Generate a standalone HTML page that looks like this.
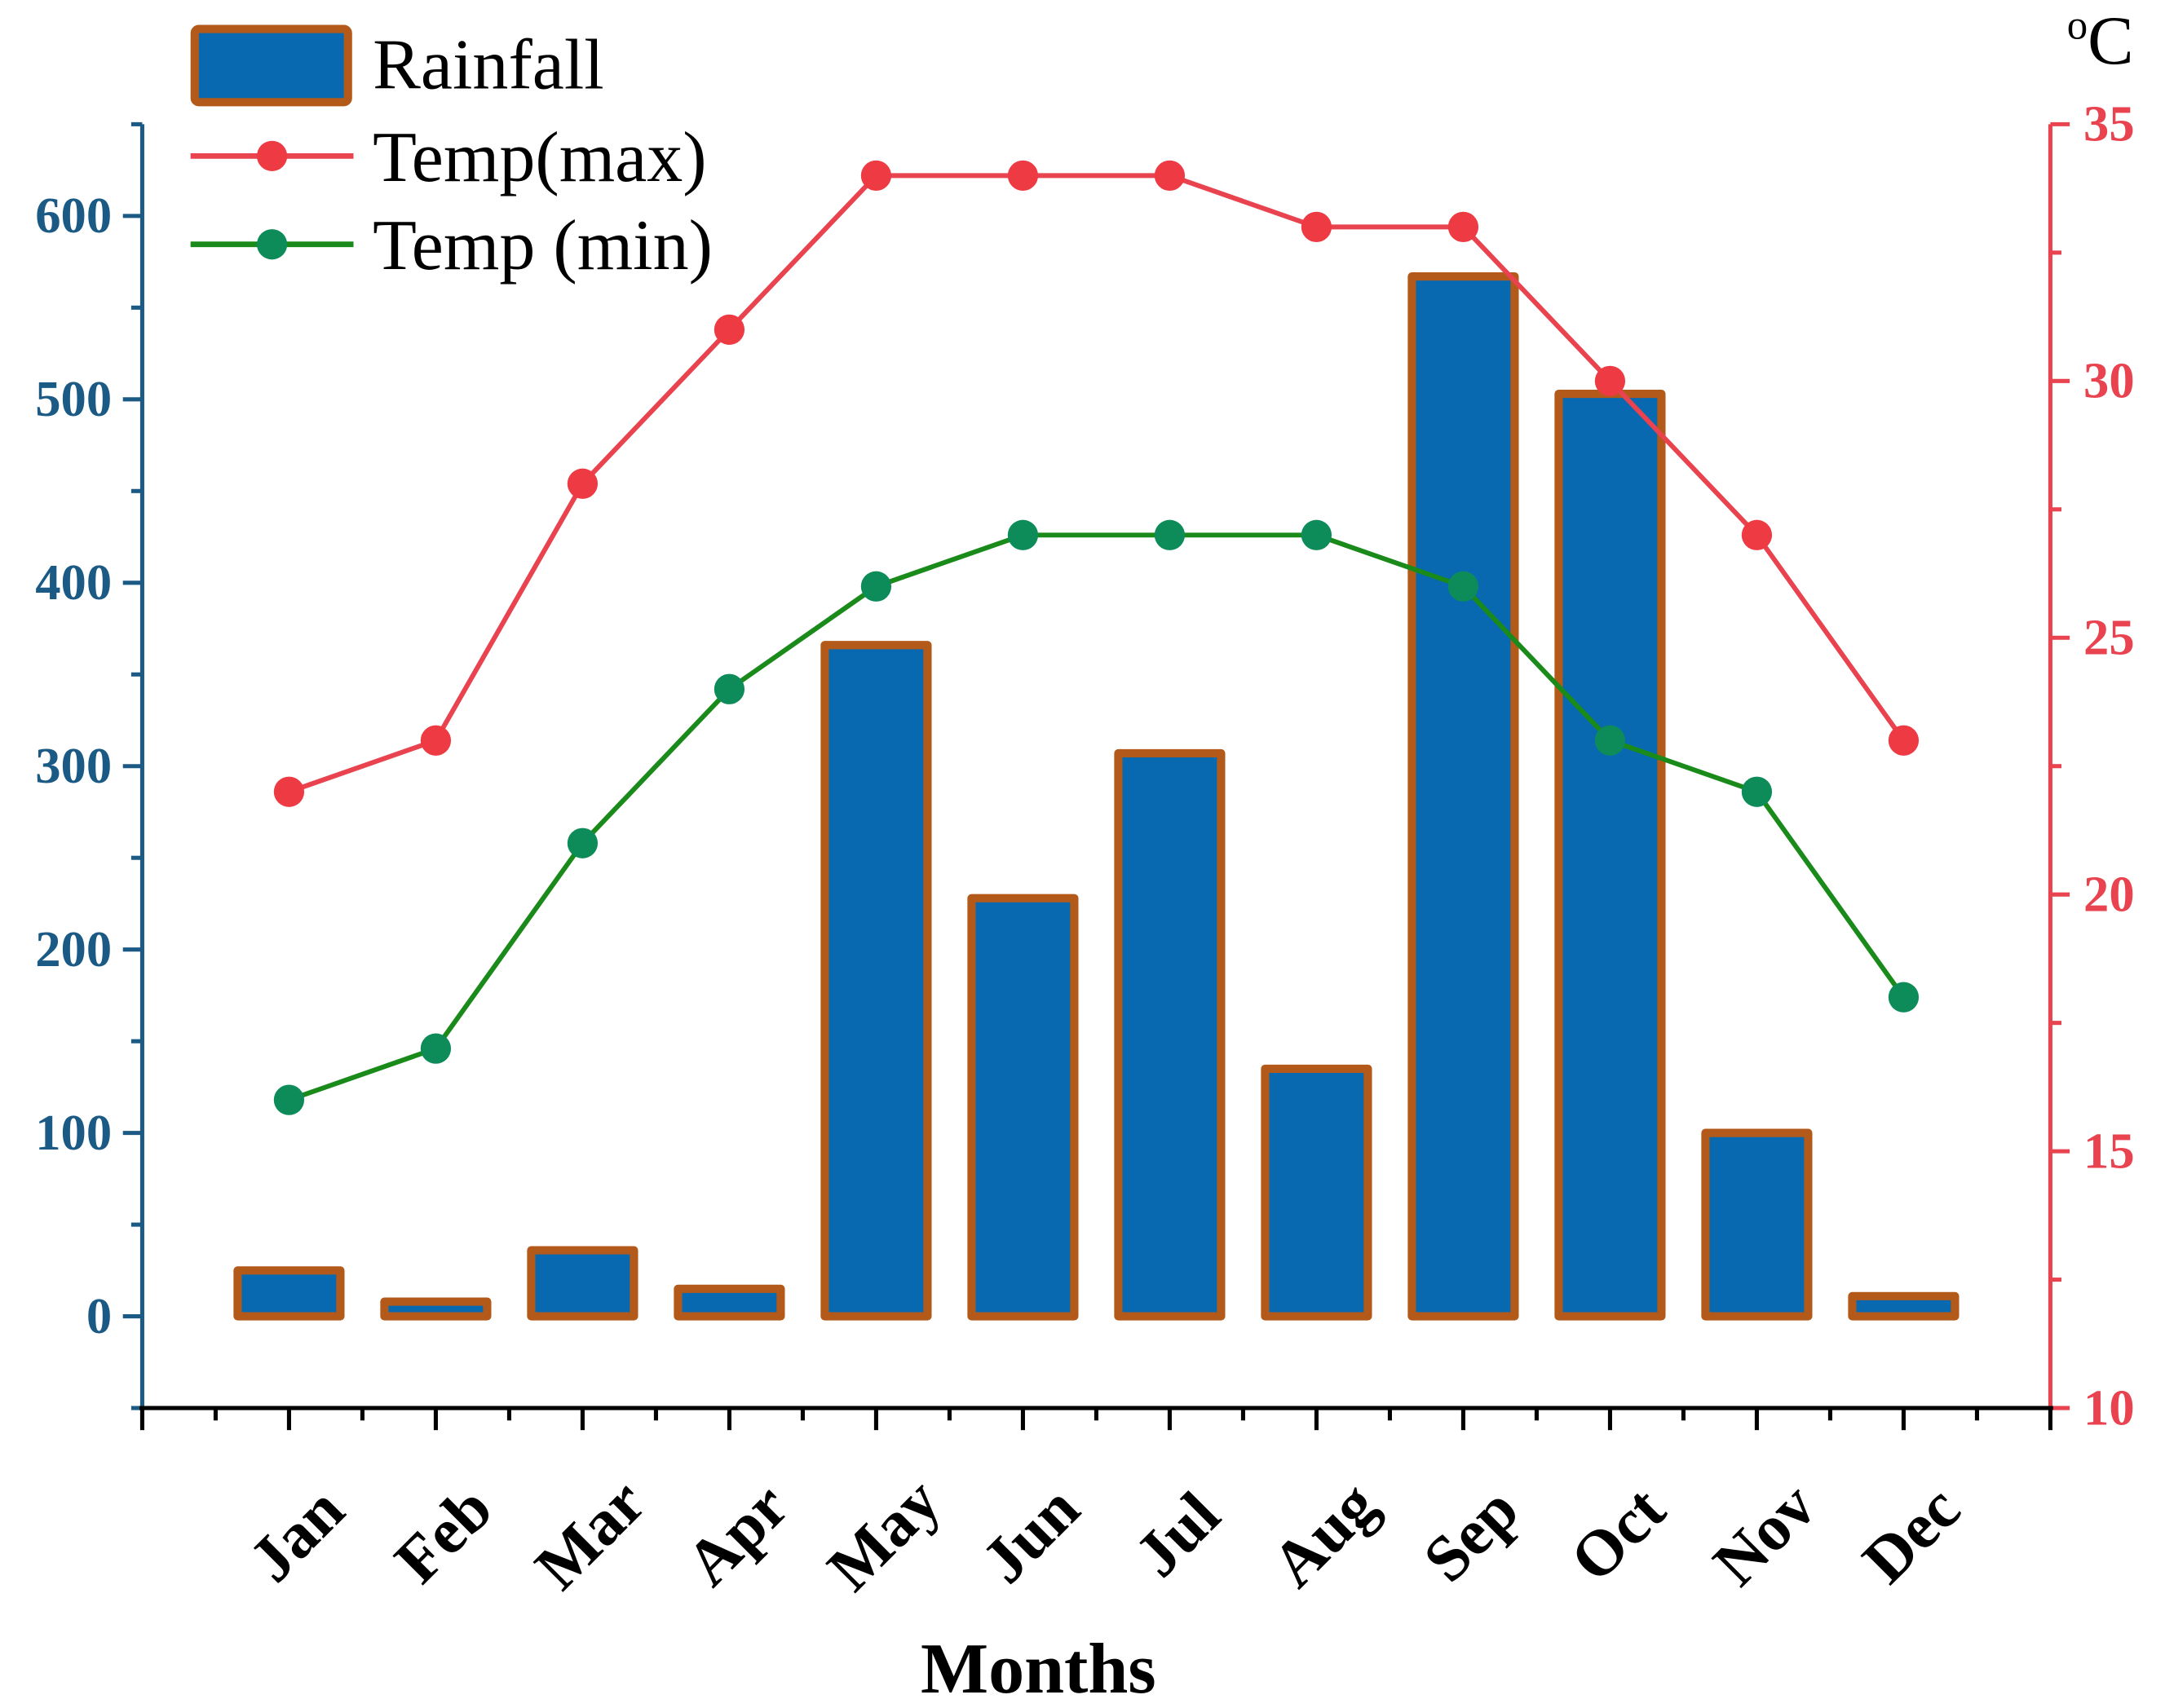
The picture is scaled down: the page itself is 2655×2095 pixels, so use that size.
<!DOCTYPE html>
<html><head><meta charset="utf-8"><style>
html,body{margin:0;padding:0;background:#fff;}
svg{display:block;}
text{font-family:"Liberation Serif",serif;}
</style></head><body>
<svg id="chart" width="2655" height="2095" viewBox="0 0 1568 1237.3" xmlns="http://www.w3.org/2000/svg">
<g id="axes"></g><g id="bars"></g><g id="lines"></g><g id="legend"></g>
</svg>
<script>
const months = ["Jan","Feb","Mar","Apr","May","Jun","Jul","Aug","Sep","Oct","Nov","Dec"];
const rainfall = [25, 8, 36, 15, 366, 228, 307, 135, 567, 503, 100, 11];
const tempMax = [22, 23, 28, 31, 34, 34, 34, 33, 33, 30, 27, 23];
const tempMin = [16, 17, 21, 24, 26, 27, 27, 27, 26, 23, 22, 18];
const leftTicks = [0, 100, 200, 300, 400, 500, 600];
const rightTicks = [10, 15, 20, 25, 30, 35];

const NS = "http://www.w3.org/2000/svg";
const L = 103, R = 1485, T = 90, B = 1020;
function xPos(i){ return L + (i + 1) * (R - L) / 13; }
function yLeft(v){ return B - (v - (-50)) / 700 * (B - T); }
function yRight(v){ return B - (v - 10) / 25 * (B - T); }
function mk(tag, attrs, parent, txt){
  const e = document.createElementNS(NS, tag);
  for (const k in attrs) e.setAttribute(k, attrs[k]);
  if (txt !== undefined) e.textContent = txt;
  parent.appendChild(e); return e;
}
const axes = document.getElementById('axes');
const bars = document.getElementById('bars');
const lines = document.getElementById('lines');
const legend = document.getElementById('legend');
const BLUE = "#1b5a85", RED = "#e8434f";

let e = mk('line',{x1:L,y1:T,x2:L,y2:B,stroke:BLUE,'stroke-width':3},axes);
 
for (let v = -50; v <= 650; v += 50) {
  const major = v % 100 === 0;
  e = mk('line',{x1:L-(major?14:8),y1:yLeft(v),x2:L,y2:yLeft(v),stroke:BLUE,'stroke-width':3},axes);
   
}
leftTicks.forEach(v=>{
  e = mk('text',{x:L-22,y:yLeft(v)+12,'text-anchor':'end','font-size':37,'font-weight':'bold',fill:BLUE},axes,String(v));
   
});
e = mk('line',{x1:R,y1:T,x2:R,y2:B,stroke:RED,'stroke-width':3},axes);
 
for (let v = 10; v <= 35; v += 2.5) {
  const major = v % 5 === 0;
  e = mk('line',{x1:R,y1:yRight(v),x2:R+(major?14:8),y2:yRight(v),stroke:RED,'stroke-width':3},axes);
   
}
rightTicks.forEach(v=>{
  e = mk('text',{x:R+24,y:yRight(v)+12,'text-anchor':'start','font-size':37,'font-weight':'bold',fill:RED},axes,String(v));
   
});
e = mk('text',{x:1497,y:46,'font-size':50,fill:'#000'},axes);
 
mk('tspan',{'font-size':30,dy:-18},e,'o'); mk('tspan',{dy:18},e,'C');
e = mk('line',{x1:L-2,y1:B,x2:R+2,y2:B,stroke:'#000','stroke-width':3},axes);
 
for (let i = -1; i <= 12; i++) {
  e = mk('line',{x1:xPos(i),y1:B,x2:xPos(i),y2:B+16,stroke:'#000','stroke-width':3},axes);
   
  if (i < 12) {
    e = mk('line',{x1:xPos(i+0.5),y1:B,x2:xPos(i+0.5),y2:B+9,stroke:'#000','stroke-width':3},axes);
     
  }
}
months.forEach((m,i)=>{
  const cx = xPos(i)+6, cy = 1112;
  e = mk('text',{x:cx,y:cy+15,'text-anchor':'middle','font-size':47,'font-weight':'bold',fill:'#000',transform:`rotate(-45 ${cx} ${cy})`},axes,m);
   
});
e = mk('text',{x:752,y:1226,'text-anchor':'middle','font-size':52,'font-weight':'bold',fill:'#000'},axes,'Months');
 

const bw = (R - L) / 13 * 0.7;
rainfall.forEach((v,i)=>{
  const y = yLeft(v), y0 = yLeft(0);
  e = mk('rect',{x:xPos(i)-bw/2,y:y,width:bw,height:Math.max(y0-y,1),fill:'#0868b0',stroke:'#b35a1a','stroke-width':6,'stroke-linejoin':'round'},bars);
   
});
function series(vals,lc,mc,name){
  const pts = vals.map((v,i)=>xPos(i)+','+yRight(v)).join(' ');
  let p = mk('polyline',{points:pts,fill:'none',stroke:lc,'stroke-width':3.5},lines);
   
  vals.forEach((v,i)=>{
    const c = mk('circle',{cx:xPos(i),cy:yRight(v),r:11,fill:mc},lines);
     
  });
}
series(tempMax,'#e8434f','#ee3a43','temp-max');
series(tempMin,'#1a8a1a','#0d8c5a','temp-min');

e = mk('rect',{x:141,y:21,width:111,height:53,fill:'#0868b0',stroke:'#b35a1a','stroke-width':6,rx:3},legend);
 
e = mk('text',{x:270,y:64,'font-size':52,fill:'#000'},legend,'Rainfall');
 
e = mk('line',{x1:138,y1:113,x2:256,y2:113,stroke:'#e8434f','stroke-width':4},legend);
 
e = mk('circle',{cx:197,cy:113,r:11,fill:'#ee3a43'},legend);
 
e = mk('text',{x:270,y:131,'font-size':52,fill:'#000'},legend,'Temp(max)');
 
e = mk('line',{x1:138,y1:177,x2:256,y2:177,stroke:'#1a8a1a','stroke-width':4},legend);
 
e = mk('circle',{cx:197,cy:177,r:11,fill:'#0d8c5a'},legend);
 
e = mk('text',{x:270,y:195,'font-size':52,fill:'#000'},legend,'Temp (min)');
 
</script>
</body></html>
